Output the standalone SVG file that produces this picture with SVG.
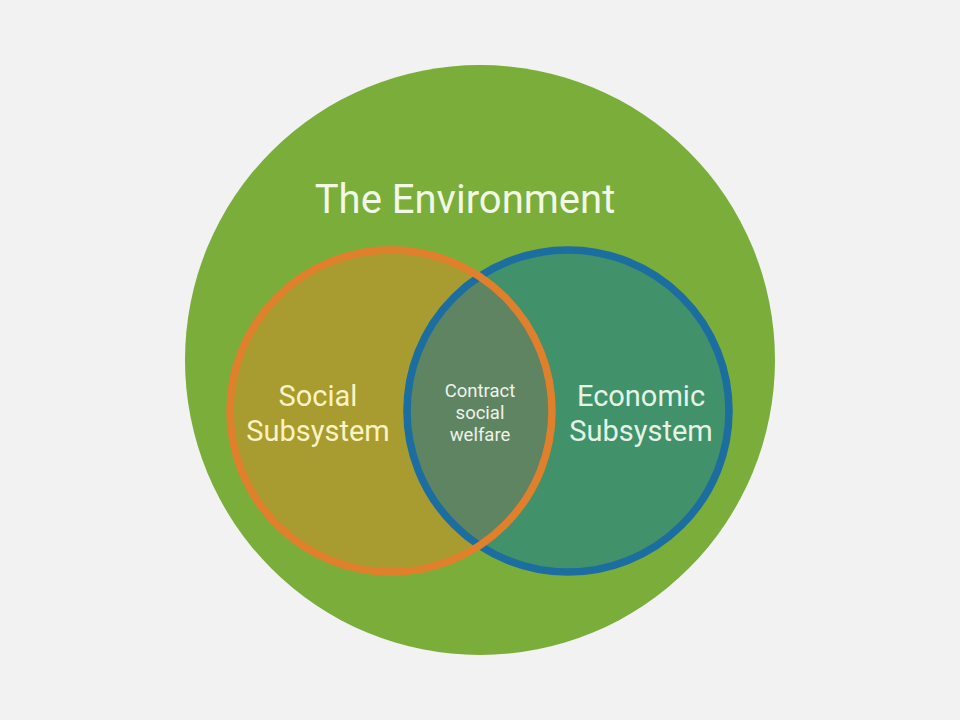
<svg xmlns="http://www.w3.org/2000/svg" width="960" height="720" viewBox="0 0 960 720">
<style>
.t{font-family:Roboto,"Liberation Sans",sans-serif;text-anchor:middle}
.big{font-size:40px;fill:#f1f8e6}
.mid{font-size:29px}
.sm{font-size:18.5px;fill:#eef3ea}
</style>
<defs>
<clipPath id="oc"><circle cx="391" cy="411" r="161"/></clipPath>
</defs>
<rect width="960" height="720" fill="#f2f2f2"/>
<g id="environment">
<circle cx="480" cy="360" r="295" fill="#7aad3a"/>
<text class="t big" x="465" y="213">The Environment</text>
</g>
<g id="social">
<circle cx="391" cy="411" r="161" fill="#a89b30"/>
</g>
<g id="economic">
<circle cx="568" cy="411" r="161" fill="#41916a"/>
</g>
<g id="overlap">
<circle cx="568" cy="411" r="161" fill="#5f8462" clip-path="url(#oc)"/>
</g>
<g id="outlines">
<circle cx="568" cy="411" r="161" fill="none" stroke="#1b6e9f" stroke-width="7.5"/>
<circle cx="391" cy="411" r="161" fill="none" stroke="#e0802c" stroke-width="7.5"/>
</g>
<g id="labels">
<text class="t mid" fill="#fbf3c2" x="318" y="406">Social<tspan x="318" y="441">Subsystem</tspan></text>
<text class="t mid" fill="#e3f4e4" x="641" y="406">Economic<tspan x="641" y="441">Subsystem</tspan></text>
<text class="t sm" x="480" y="397">Contract<tspan x="480" y="419">social</tspan><tspan x="480" y="441">welfare</tspan></text>
</g>
</svg>
